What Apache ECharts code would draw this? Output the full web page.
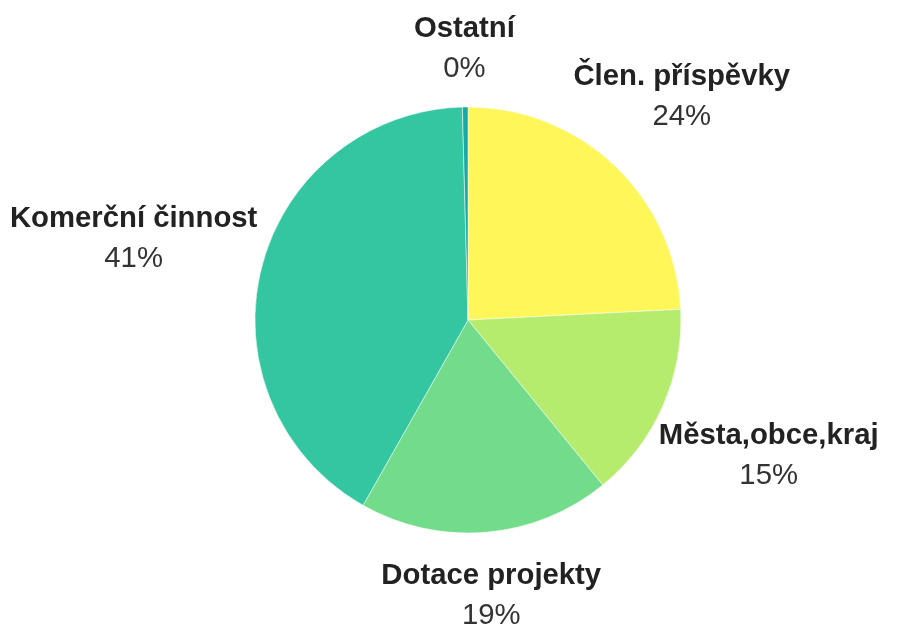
<!DOCTYPE html>
<html>
<head>
<meta charset="utf-8">
<style>
  html, body { margin: 0; padding: 0; background: #fff; }
  #chart { width: 897px; height: 628px; }
</style>
<script src="https://cdn.jsdelivr.net/npm/echarts@6/dist/echarts.min.js"></script>
</head>
<body>
<div id="chart"></div>
<script>
// data
var categories = ['Člen. příspěvky', 'Města,obce,kraj', 'Dotace projekty', 'Komerční činnost', 'Ostatní'];
var shares = [24.2, 14.9, 19.1, 41.38, 0.42];
var colors = ['#fff75a', '#b5ec6e', '#72dc8a', '#33c6a0', '#15aaa8'];

var cx = 468, cy = 320;

// mid angle of each slice (deg, clockwise from 90)
var total = shares.reduce(function (a, b) { return a + b; }, 0);
var midAngles = [];
var acc = 0;
shares.forEach(function (v) {
  midAngles.push(90 - (acc + v / 2) / total * 360);
  acc += v;
});

var myChart = echarts.init(document.getElementById('chart'));
var option = {
  animation: false,
  color: colors,
  series: [{
    type: 'pie',
    center: [cx, cy],
    radius: 213,
    startAngle: 90,
    clockwise: true,
    avoidLabelOverlap: false,
    percentPrecision: 2,
    itemStyle: { borderColor: '#fff', borderWidth: 0.5 },
    emphasis: { disabled: true },
    labelLine: { show: false },
    label: {
      show: true,
      position: 'outside',
      align: 'center',
      formatter: function (p) {
        return '{n|' + p.name + '}\n{p|' + Math.round(p.percent) + '%}';
      },
      rich: {
        n: { fontFamily: 'Liberation Sans', fontWeight: 'bold', fontSize: 29.3, lineHeight: 40, color: '#222', align: 'center' },
        p: { fontFamily: 'Liberation Sans', fontSize: 29.3, lineHeight: 40, color: '#333', align: 'center' }
      }
    },
    // labels sit along each slice's mid angle, pushed out by their own size
    labelLayout: function (params) {
      var a = midAngles[params.dataIndex] * Math.PI / 180;
      var c = Math.cos(a), s = Math.sin(a);
      var hw = params.labelRect.width / 2, hh = params.labelRect.height / 2;
      var d = 245 + 0.828 * Math.sqrt(hw * c * hw * c + hh * s * hh * s);
      return { x: cx + d * c, y: cy + 2 - d * s, align: 'center', verticalAlign: 'middle' };
    },
    data: categories.map(function (name, i) {
      return { name: name, value: shares[i] };
    })
  }]
};
myChart.setOption(option);
</script>
</body>
</html>
